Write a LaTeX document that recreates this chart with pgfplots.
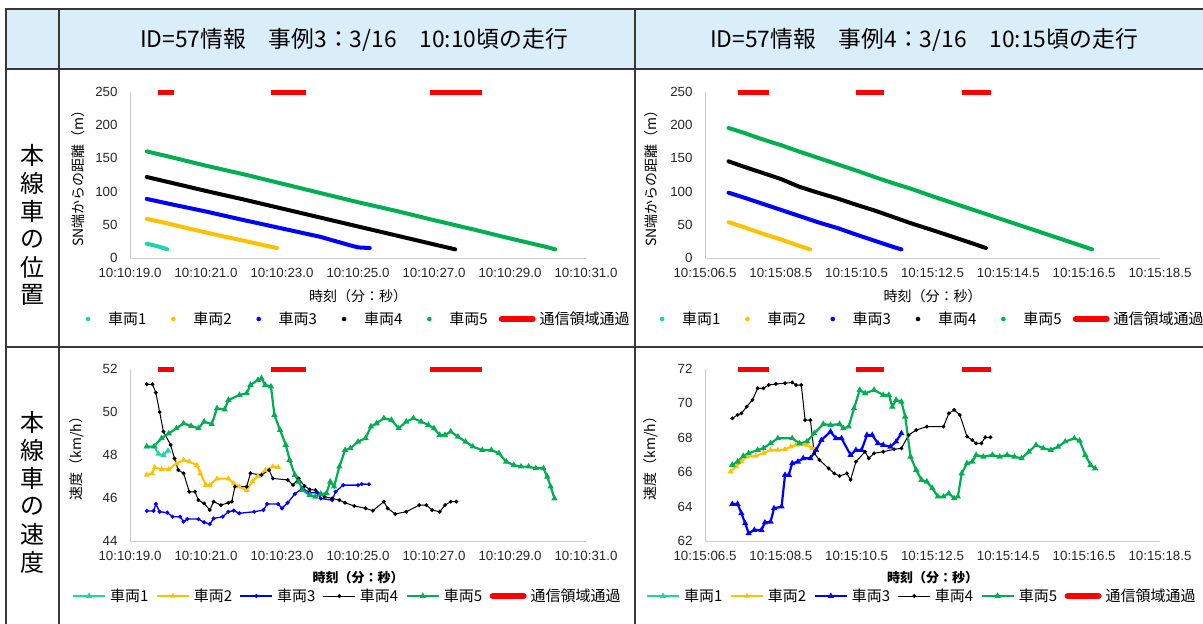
\documentclass[border=0pt]{standalone}
\usepackage{fontspec}
\setmainfont{Liberation Sans}
\newfontfamily\jp{Noto Sans CJK JP}
\usepackage{pgfplots}
\pgfplotsset{compat=1.18}
\definecolor{c1}{RGB}{30,215,165}
\definecolor{c2}{RGB}{255,192,0}
\definecolor{c3}{RGB}{0,0,255}
\definecolor{c4}{RGB}{0,0,0}
\definecolor{c5}{RGB}{0,176,80}
\definecolor{hdr}{RGB}{218,238,250}
\definecolor{gridc}{RGB}{55,55,55}
\pgfplotsset{
  base/.style={scale only axis, clip=false,
    axis x line*=bottom, axis y line*=left,
    axis line style={draw=black!20, line width=1pt, -},
    major tick length=0pt, tick style={draw=none},
    tick label style={font=\fontsize{13.3}{15}\selectfont, text=black!85},
    yticklabel style={xshift=-9pt}, xticklabel style={yshift=-7pt},
    /pgf/number format/assume math mode=true,
    xlabel style={font=\jp\fontsize{14}{16}\selectfont, anchor=center},
    ylabel style={font=\jp\fontsize{14}{16}\selectfont, anchor=center},
    legend columns=6, legend cell align=left,
    legend style={draw=none, fill=none, inner sep=0pt, outer sep=0pt, anchor=west,
      font=\jp\fontsize{15}{17}\selectfont,
      nodes={inner sep=0pt},
      /tikz/every odd column/.append style={column sep=4pt},
      /tikz/every even column/.append style={column sep=11pt}},
  },
  botleg/.style={legend style={/tikz/every even column/.append style={column sep=7.5pt}}},
  dist/.style={line width=4pt, line join=round, line cap=round,
    legend image code/.code={\path[draw=none,fill=none] (0pt,-2pt) rectangle (32pt,2pt); \fill[draw=none] (16pt,0pt) circle (2.3pt);}},
  redbar/.style={color=red, line width=5pt,
    legend image code/.code={\draw[line width=6pt, line cap=round] (0pt,0pt) -- (31pt,0pt);}},
  spd/.style={mark options={solid},
    legend image code/.code={\draw[mark repeat=2,mark phase=2] plot coordinates {(0pt,0pt) (16pt,0pt) (32pt,0pt)};}},
}
\begin{document}
\begin{tikzpicture}
\useasboundingbox (0pt,0pt) rectangle (1203pt,-624pt);
% table grid
\fill[hdr] (6pt,-9pt) rectangle (1215pt,-69pt);
\draw[gridc, line width=1.5pt] (6pt,-640pt) -- (6pt,-9pt) -- (1215pt,-9pt);
\draw[gridc, line width=1.5pt] (6pt,-69pt) -- (1215pt,-69pt);
\draw[gridc, line width=1.5pt] (6pt,-347pt) -- (1215pt,-347pt);
\draw[gridc, line width=1.5pt] (59pt,-9pt) -- (59pt,-640pt);
\draw[gridc, line width=1.5pt] (635pt,-9pt) -- (635pt,-640pt);
\node[font=\jp\fontsize{22.8}{25}\selectfont] at (354pt,-40pt) {ID=57情報　事例3：3/16　10:10頃の走行};
\node[font=\jp\fontsize{22.8}{25}\selectfont] at (924pt,-40pt) {ID=57情報　事例4：3/16　10:15頃の走行};
\begin{scope}[every node/.style={font=\jp\fontsize{24}{24}\selectfont}]
\node at (32.5pt,-155pt) {本};
\node at (32.5pt,-183pt) {線};
\node at (32.5pt,-211pt) {車};
\node at (32.5pt,-239pt) {の};
\node at (32.5pt,-267pt) {位};
\node at (32.5pt,-295pt) {置};
\node at (32.5pt,-422pt) {本};
\node at (32.5pt,-450pt) {線};
\node at (32.5pt,-478pt) {車};
\node at (32.5pt,-506pt) {の};
\node at (32.5pt,-534pt) {速};
\node at (32.5pt,-562pt) {度};
\end{scope}

% ---------------- Panel 1: distance, case 3
\begin{axis}[base, at={(130pt,-258pt)}, anchor=south west, width=456pt, height=166pt,
  xmin=19, xmax=31, ymin=0, ymax=250,
  xtick={19,21,23,25,27,29,31},
  xticklabels={10:10:19.0,10:10:21.0,10:10:23.0,10:10:25.0,10:10:27.0,10:10:29.0,10:10:31.0},
  ytick={0,50,100,150,200,250},
  ylabel={SN端からの距離（m）}, xlabel={時刻（分：秒）},
  ylabel style={at={(axis description cs:-0.114,0.5)}},
  xlabel style={at={(axis description cs:0.5,-0.229)}},
  legend style={at={(-0.127,-0.3675)}}]
\addplot[dist, color=c1] coordinates {(19.44,21.5) (19.6,19.5) (19.8,16.5) (19.98,13)};
\addlegendentry{車両1}
\addplot[dist, color=c2] coordinates {(19.44,59) (20.0,52) (20.5,45) (21.0,38.5) (21.5,32) (22.0,26) (22.5,19.5) (22.87,15)};
\addlegendentry{車両2}
\addplot[dist, color=c3] coordinates {(19.44,89) (20,82) (21,70) (22,57) (23,44.5) (24,32) (24.8,19) (25.0,16) (25.31,15)};
\addlegendentry{車両3}
\addplot[dist, color=c4] coordinates {(19.44,122) (20,114.5) (21,101) (22,88) (23,74.5) (24,61) (25,47.5) (26,34) (27,20.5) (27.56,13)};
\addlegendentry{車両4}
\addplot[dist, color=c5] coordinates {(19.44,160.6) (20,153) (21,139) (22,126) (23,112) (24,98) (25,84) (26,71) (27,57) (28,43.5) (29,29.5) (30,16) (30.19,13)};
\addlegendentry{車両5}
\addplot[redbar] coordinates {(19.73,250) (20.15,250)};
\addlegendentry{通信領域通過}
\addplot[redbar, forget plot] coordinates {(22.7,250) (23.64,250)};
\addplot[redbar, forget plot] coordinates {(26.9,250) (28.25,250)};
\end{axis}

% ---------------- Panel 2: distance, case 4
\begin{axis}[base, at={(705pt,-258pt)}, anchor=south west, width=455pt, height=166pt,
  xmin=6.5, xmax=18.5, ymin=0, ymax=250,
  xtick={6.5,8.5,10.5,12.5,14.5,16.5,18.5},
  xticklabels={10:15:06.5,10:15:08.5,10:15:10.5,10:15:12.5,10:15:14.5,10:15:16.5,10:15:18.5},
  ytick={0,50,100,150,200,250},
  ylabel={SN端からの距離（m）}, xlabel={時刻（分：秒）},
  ylabel style={at={(axis description cs:-0.119,0.5)}},
  xlabel style={at={(axis description cs:0.5,-0.229)}},
  legend style={at={(-0.1295,-0.3675)}}]
\addlegendimage{dist, color=c1}
\addlegendentry{車両1}
\addplot[dist, color=c2] coordinates {(7.12,54) (7.5,47) (8,37) (8.5,28) (9,18) (9.27,13)};
\addlegendentry{車両2}
\addplot[dist, color=c3] coordinates {(7.12,98.4) (7.5,91.5) (8,82) (8.5,72.5) (9,63) (9.5,53.5) (10,45) (10.5,35) (11,25.5) (11.5,16) (11.68,13)};
\addlegendentry{車両3}
\addplot[dist, color=c4] coordinates {(7.12,145.6) (7.5,138) (8,128.5) (8.5,119) (9,107) (9.5,98) (10,89.5) (10.5,80) (11,71) (11.5,61) (12,51) (12.5,42) (13,32.5) (13.5,23) (13.91,15)};
\addlegendentry{車両4}
\addplot[dist, color=c5] coordinates {(7.12,195.8) (7.5,189) (8,179) (8.5,170) (9,160) (9.5,150.5) (10,141) (10.5,131.5) (11,121.5) (11.5,112) (12,103) (12.5,93) (13,83.5) (13.5,74) (14,64.5) (14.5,55) (15,45.5) (15.5,36) (16,26.5) (16.5,17) (16.71,13)};
\addlegendentry{車両5}
\addplot[redbar] coordinates {(7.36,250) (8.18,250)};
\addlegendentry{通信領域通過}
\addplot[redbar, forget plot] coordinates {(10.47,250) (11.22,250)};
\addplot[redbar, forget plot] coordinates {(13.28,250) (14.05,250)};
\end{axis}

% ---------------- Panel 3: speed, case 3
\begin{axis}[base, botleg, at={(130pt,-541pt)}, anchor=south west, width=456pt, height=172pt,
  xmin=19, xmax=31, ymin=44, ymax=52,
  xtick={19,21,23,25,27,29,31},
  xticklabels={10:10:19.0,10:10:21.0,10:10:23.0,10:10:25.0,10:10:27.0,10:10:29.0,10:10:31.0},
  ytick={44,46,48,50,52},
  ylabel={速度（km/h）}, xlabel={時刻（分：秒）},
  ylabel style={at={(axis description cs:-0.116,0.5)}},
  xlabel style={at={(axis description cs:0.5,-0.215)}, font=\jp\bfseries\fontsize{13}{15}\selectfont},
  legend style={at={(-0.127,-0.32)}}]
\addplot[spd, color=c1, line width=2pt, mark=triangle*, mark size=1.6pt] coordinates {(19.44,48.39) (19.65,48.39) (19.75,48.05) (19.88,48.0) (20.0,48.2)};
\addlegendentry{車両1}
\addplot[spd, color=c2, line width=2pt, mark=triangle*, mark size=1.4pt] coordinates {(19.44,47.07) (19.585,47.15) (19.65,47.43) (19.83,47.33) (20.02,47.33) (20.22,47.6) (20.41,47.77) (20.56,47.69) (20.76,47.53) (20.85,47.15) (21.0,46.6) (21.1,46.6) (21.29,46.9) (21.59,46.9) (21.73,46.68) (21.88,46.53) (22.07,46.37) (22.22,46.76) (22.37,47.02) (22.56,47.3) (22.76,47.46) (22.9,47.43)};
\addlegendentry{車両2}
\addplot[spd, color=c3, line width=1.3pt, mark=*, mark size=1.3pt] coordinates {(19.44,45.4) (19.62,45.4) (19.68,45.72) (19.78,45.36) (19.98,45.32) (20.12,45.13) (20.32,45.13) (20.41,44.9) (20.51,45.02) (20.8,45.02) (20.95,44.87) (21.1,44.79) (21.2,45.05) (21.44,45.13) (21.59,45.36) (21.73,45.41) (21.88,45.29) (22.27,45.36) (22.51,45.44) (22.61,45.72) (22.9,45.72) (23.0,45.52) (23.15,45.78) (23.34,46.19) (23.54,46.45) (23.73,46.25) (23.93,46.25) (24.02,45.98) (24.32,45.9) (24.41,46.29) (24.61,46.6) (25.0,46.6) (25.1,46.65) (25.29,46.64)};
\addlegendentry{車両3}
\addplot[spd, color=c4, line width=1pt, mark=*, mark size=1.4pt] coordinates {(19.44,51.29) (19.59,51.29) (19.68,50.9) (19.78,50.0) (19.88,49.09) (20.07,48.47) (20.17,47.84) (20.27,47.3) (20.41,47.15) (20.56,46.29) (20.71,46.29) (20.8,45.9) (20.95,45.75) (21.1,45.44) (21.2,45.83) (21.39,45.67) (21.59,45.78) (21.68,45.83) (21.76,46.53) (22.07,46.53) (22.17,47.15) (22.46,47.07) (22.66,47.3) (22.76,46.91) (23.15,46.84) (23.29,46.6) (23.44,46.91) (23.59,46.56) (23.73,46.4) (23.88,46.37) (24.12,46.06) (24.32,45.98) (24.51,45.9) (24.66,45.78) (24.9,45.63) (25.2,45.52) (25.39,45.41) (25.68,45.83) (25.78,45.52) (25.98,45.26) (26.27,45.36) (26.61,45.67) (26.8,45.67) (26.95,45.44) (27.15,45.36) (27.29,45.67) (27.44,45.83) (27.59,45.83)};
\addlegendentry{車両4}
\addplot[spd, color=c5, line width=2.2pt, mark=triangle*, mark size=1.5pt] coordinates {(19.44,48.39) (19.63,48.39) (19.83,48.78) (20.02,49.0) (20.22,49.24) (20.41,49.47) (20.61,49.35) (20.8,49.24) (20.95,49.55) (21.15,49.44) (21.29,50.17) (21.49,50.12) (21.59,50.56) (21.88,50.79) (22.07,50.87) (22.17,51.26) (22.37,51.49) (22.46,51.57) (22.56,51.26) (22.71,51.18) (22.8,49.86) (22.95,49.16) (23.1,48.47) (23.2,47.77) (23.34,47.07) (23.44,46.76) (23.54,46.37) (23.73,46.14) (23.88,46.06) (24.02,46.19) (24.17,46.22) (24.27,46.76) (24.37,46.53) (24.51,47.46) (24.66,48.23) (24.8,48.31) (25.0,48.62) (25.2,48.78) (25.34,49.32) (25.49,49.47) (25.68,49.71) (25.88,49.63) (26.07,49.24) (26.27,49.55) (26.46,49.71) (26.66,49.55) (26.85,49.4) (27.0,49.24) (27.15,48.93) (27.29,48.93) (27.44,49.09) (27.63,48.85) (27.83,48.62) (28.02,48.39) (28.27,48.23) (28.51,48.23) (28.71,48.08) (28.9,47.69) (29.1,47.53) (29.29,47.46) (29.49,47.46) (29.68,47.38) (29.88,47.38) (29.98,46.99) (30.07,46.53) (30.17,45.98)};
\addlegendentry{車両5}
\addplot[redbar] coordinates {(19.73,52) (20.15,52)};
\addlegendentry{通信領域通過}
\addplot[redbar, forget plot] coordinates {(22.7,52) (23.64,52)};
\addplot[redbar, forget plot] coordinates {(26.9,52) (28.25,52)};
\end{axis}

% ---------------- Panel 4: speed, case 4
\begin{axis}[base, botleg, at={(705pt,-541pt)}, anchor=south west, width=455pt, height=172pt,
  xmin=6.5, xmax=18.5, ymin=62, ymax=72,
  xtick={6.5,8.5,10.5,12.5,14.5,16.5,18.5},
  xticklabels={10:15:06.5,10:15:08.5,10:15:10.5,10:15:12.5,10:15:14.5,10:15:16.5,10:15:18.5},
  ytick={62,64,66,68,70,72},
  ylabel={速度（km/h）}, xlabel={時刻（分：秒）},
  ylabel style={at={(axis description cs:-0.119,0.5)}},
  xlabel style={at={(axis description cs:0.5,-0.215)}, font=\jp\bfseries\fontsize{13}{15}\selectfont},
  legend style={at={(-0.1295,-0.32)}}]
\addlegendimage{spd, color=c1, line width=2pt, mark=triangle*, mark size=1.6pt}
\addlegendentry{車両1}
\addplot[spd, color=c2, line width=2pt, mark=triangle*, mark size=1.4pt] coordinates {(7.17,66.03) (7.32,66.32) (7.46,66.61) (7.6,66.9) (7.84,66.94) (8.04,67.1) (8.23,67.29) (8.42,67.29) (8.61,67.33) (8.76,67.48) (8.9,67.58) (9.19,67.58) (9.33,67.39)};
\addlegendentry{車両2}
\addplot[spd, color=c3, line width=2.2pt, mark=triangle*, mark size=1.4pt] coordinates {(7.22,64.15) (7.36,64.15) (7.46,63.61) (7.56,63.03) (7.65,62.45) (7.8,62.64) (7.99,62.64) (8.08,63.07) (8.23,63.12) (8.32,63.9) (8.52,64.0) (8.61,65.84) (8.71,65.84) (8.8,66.52) (8.95,66.61) (9.09,66.81) (9.28,66.81) (9.43,67.29) (9.57,67.87) (9.81,68.36) (9.95,67.97) (10.1,67.97) (10.34,67.0) (10.48,67.29) (10.63,67.29) (10.77,68.16) (10.91,68.16) (11.06,67.68) (11.2,67.58) (11.39,67.48) (11.54,67.78) (11.68,68.26)};
\addlegendentry{車両3}
\addplot[spd, color=c4, line width=1pt, mark=*, mark size=1.4pt] coordinates {(7.22,69.13) (7.36,69.33) (7.46,69.42) (7.6,69.81) (7.75,70.2) (7.89,70.88) (8.04,70.88) (8.18,71.07) (8.37,71.13) (8.61,71.17) (8.8,71.22) (8.9,71.07) (9.04,71.07) (9.14,69.03) (9.28,69.03) (9.38,67.1) (9.52,66.71) (9.76,66.22) (9.91,65.93) (10.05,65.78) (10.24,65.93) (10.34,65.55) (10.48,66.61) (10.72,67.19) (10.82,66.81) (10.96,67.1) (11.2,67.19) (11.49,67.33) (11.68,67.39) (11.87,68.16) (12.07,68.45) (12.35,68.65) (12.79,68.65) (12.93,69.42) (13.07,69.62) (13.22,69.33) (13.41,68.07) (13.55,67.87) (13.65,67.68) (13.79,67.68) (13.89,68.03) (14.03,68.03)};
\addlegendentry{車両4}
\addplot[spd, color=c5, line width=2.2pt, mark=triangle*, mark size=1.5pt] coordinates {(7.22,66.42) (7.36,66.61) (7.51,66.94) (7.65,67.1) (7.89,67.29) (8.04,67.39) (8.23,67.68) (8.42,67.97) (8.8,67.97) (8.99,67.68) (9.19,67.78) (9.38,68.26) (9.62,68.8) (9.81,68.74) (10.05,68.8) (10.15,68.55) (10.29,68.65) (10.43,69.71) (10.58,70.78) (10.72,70.58) (10.96,70.78) (11.2,70.49) (11.35,70.49) (11.44,69.81) (11.54,70.2) (11.68,70.1) (11.78,69.23) (11.92,66.9) (12.07,66.13) (12.21,65.55) (12.35,65.45) (12.5,65.06) (12.64,64.58) (12.79,64.58) (12.93,64.77) (13.07,64.48) (13.17,64.58) (13.27,65.93) (13.41,66.52) (13.55,66.61) (13.65,67.0) (13.84,66.9) (14.08,67.0) (14.27,66.9) (14.47,67.0) (14.66,66.9) (14.85,66.81) (15.04,67.19) (15.23,67.58) (15.42,67.39) (15.62,67.29) (15.81,67.48) (16.0,67.78) (16.24,67.97) (16.38,67.83) (16.53,67.0) (16.67,66.42) (16.79,66.22)};
\addlegendentry{車両5}
\addplot[redbar] coordinates {(7.36,72) (8.18,72)};
\addlegendentry{通信領域通過}
\addplot[redbar, forget plot] coordinates {(10.47,72) (11.22,72)};
\addplot[redbar, forget plot] coordinates {(13.28,72) (14.05,72)};
\end{axis}
\end{tikzpicture}
\end{document}
